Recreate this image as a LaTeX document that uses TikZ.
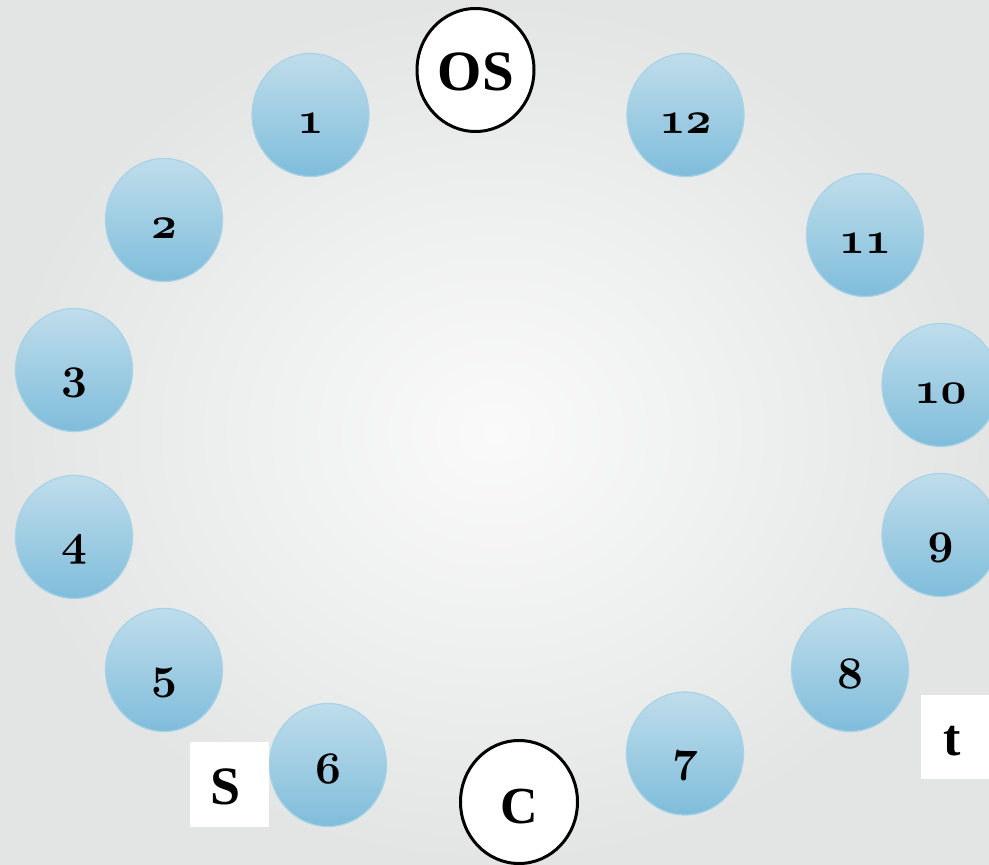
\documentclass[tikz,border=0pt]{standalone}
\usepackage{fontspec}
\usepackage{graphicx}
\setmainfont{Liberation Serif}
\usetikzlibrary{shapes.geometric}
\definecolor{bgin}{HTML}{FAFAFA}
\definecolor{bgout}{HTML}{E3E5E5}
\definecolor{bubtop}{HTML}{BFDDEB}
\definecolor{bubbot}{HTML}{7FBDDB}
\definecolor{bubedge}{HTML}{A8D2E6}
\newcommand\osn[1]{\scalebox{4.5}{\fontsize{10}{10}\usefont{OML}{cmm}{b}{it}#1}}
\begin{document}
\begin{tikzpicture}[x=1pt,y=-1pt,
  bub/.style={ellipse, minimum width=117, minimum height=123, inner sep=0,
    draw=bubedge, line width=1.2, top color=bubtop, bottom color=bubbot},
  num/.style={anchor=base, inner sep=0},
  ring/.style={ellipse, minimum width=117, minimum height=123, inner sep=0,
    draw=black, line width=3, fill=white},
  lbl/.style={anchor=base, inner sep=0, font=\bfseries\fontsize{52}{52}\selectfont},
  wbox/.style={rectangle, fill=white, inner sep=0}]
\useasboundingbox (0,0) rectangle (989,865);
\shade[inner color=bgin, outer color=bgout] (0,0) rectangle (989,865);
% bubbles
\foreach \n/\x/\y in {1/310.5/115, 2/164/220, 3/74/370, 4/74/537, 5/164/670,
  6/328/765, 7/685/753.5, 8/850/670, 9/940.5/535, 10/940.5/385, 11/865/235, 12/685.5/115}{
  \node[bub] (b\n) at (\x,\y) {};
  \node[num] (n\n) at ([yshift=-18pt]b\n.center) {\osn{\n}};
}
% OS and C
\node[ring] (os) at (475.5,70) {};
\node[lbl, font=\bfseries\fontsize{57}{57}\selectfont] (ostext) at (476,90) {OS};
\node[ring] (c) at (519,802) {};
\node[lbl, font=\bfseries\fontsize{52}{52}\selectfont] (ctext) at (519,823) {C};
% S and t boxes
\node[wbox, minimum width=79, minimum height=85] (sbox) at (229.5,784.5) {};
\node[lbl, font=\bfseries\fontsize{54}{54}\selectfont] (stext) at (226,804) {S};
\node[wbox, minimum width=70, minimum height=84] (tbox) at (956,737) {};
\node[lbl] (ttext) at (952,755) {t};
\end{tikzpicture}
\end{document}
